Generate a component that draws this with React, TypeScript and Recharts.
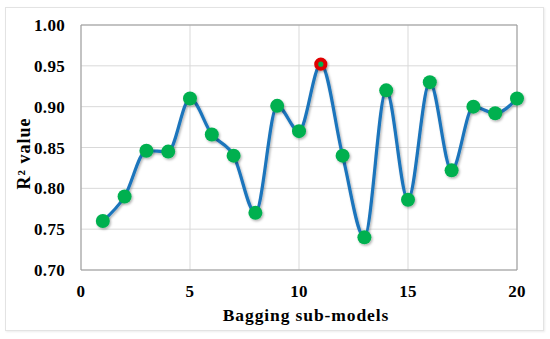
import React from "react";
import {
  LineChart,
  Line,
  XAxis,
  YAxis,
  CartesianGrid,
  ReferenceArea,
  Label,
} from "recharts";

const subModels = [1, 2, 3, 4, 5, 6, 7, 8, 9, 10, 11, 12, 13, 14, 15, 16, 17, 18, 19, 20];
const r2Values = [
  0.76, 0.79, 0.846, 0.845, 0.91, 0.866, 0.84, 0.77, 0.901, 0.87,
  0.952, 0.84, 0.74, 0.92, 0.786, 0.93, 0.822, 0.9, 0.892, 0.91,
];
const xTicks = [0, 5, 10, 15, 20];
const yTicks = [0.7, 0.75, 0.8, 0.85, 0.9, 0.95, 1.0];
const bestIndex = 10;

const data = subModels.map((m, i) => ({ m, r2: r2Values[i] }));

const FONT = "'Liberation Serif', 'Times New Roman', serif";

const renderDot = (props: any) => {
  const { cx, cy, index } = props;
  if (index === bestIndex) {
    return (
      <circle key={`d${index}`} cx={cx} cy={cy} r={4.6} fill="#00B050" stroke="#E00000" strokeWidth={4} filter="url(#shadow)" />
    );
  }
  return <circle key={`d${index}`} cx={cx} cy={cy} r={7} fill="#00B050" filter="url(#shadow)" />;
};

const YTitle = (props: any) => {
  const vb = props.viewBox || {};
  const x = vb.x + 24;
  const y = vb.y + vb.height / 2 + 6;
  return (
    <text
      x={x}
      y={y}
      transform={`rotate(-90, ${x}, ${y})`}
      textAnchor="middle"
      dominantBaseline="central"
      fontFamily={FONT}
      fontWeight="bold"
      fontSize={18}
      letterSpacing={1}
      fill="#000"
    >
      R² value
    </text>
  );
};

const XTitle = (props: any) => {
  const vb = props.viewBox || {};
  const x = vb.x + vb.width / 2 + 7;
  const y = vb.y + 51;
  return (
    <text
      x={x}
      y={y}
      textAnchor="middle"
      fontFamily={FONT}
      fontWeight="bold"
      fontSize={17.5}
      letterSpacing={0.9}
      fill="#000"
    >
      Bagging sub-models
    </text>
  );
};

const tickStyle = { fontFamily: FONT, fontWeight: "bold", fontSize: 17, fill: "#000", letterSpacing: 0.3 };

export default function App() {
  return (
    <div style={{ position: "absolute", left: 0, top: 0, width: 550, height: 339, background: "#fff" }}>
      <div
        style={{
          position: "absolute",
          left: 5,
          top: 7,
          width: 537,
          height: 322,
          border: "1px solid #e3e3e3",
          boxShadow: "1px 1px 2px rgba(0,0,0,0.08)",
        }}
      />
      <div style={{ position: "absolute", left: 0, top: 0 }}>
        <LineChart width={550} height={339} data={data} margin={{ top: 25, right: 33, bottom: 0, left: 0 }}>
          <defs>
            <filter id="shadow" x="-50%" y="-50%" width="200%" height="200%">
              <feDropShadow dx="1.2" dy="1.5" stdDeviation="1" floodColor="#000" floodOpacity="0.3" />
            </filter>
          </defs>
          <CartesianGrid stroke="#d9d9d9" strokeWidth={1} />
          <XAxis
            dataKey="m"
            type="number"
            domain={[0, 20]}
            ticks={xTicks}
            height={69}
            axisLine={false}
            tickLine={false}
            tickMargin={9}
            tick={tickStyle}
          >
            <Label content={<XTitle />} />
          </XAxis>
          <YAxis
            type="number"
            domain={[0.7, 1.0]}
            ticks={yTicks}
            width={81}
            axisLine={false}
            tickLine={false}
            tickMargin={10}
            tickFormatter={(v: number) => v.toFixed(2)}
            tick={tickStyle}
          >
            <Label content={<YTitle />} />
          </YAxis>
          <ReferenceArea x1={0} x2={20} y1={0.7} y2={1.0} fill="none" stroke="#9a9a9a" strokeWidth={1} ifOverflow="visible" />
          <Line
            type="monotone"
            dataKey="r2"
            stroke="#1B75BC"
            strokeWidth={3.2}
            dot={renderDot}
            activeDot={false}
            filter="url(#shadow)"
            isAnimationActive={false}
          />
        </LineChart>
      </div>
    </div>
  );
}
